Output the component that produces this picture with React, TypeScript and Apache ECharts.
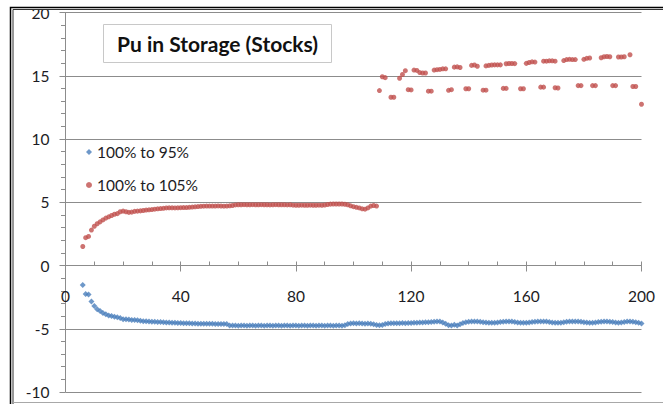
import React, { useEffect, useRef } from "react";
import * as echarts from "echarts";

const titleText = "Pu in Storage (Stocks)";
const seriesNames = ["100% to 95%", "100% to 105%"];

// 100% to 95%: values for x = blueStart, blueStart+1, ...
const blueStart = 6;
const blueValues = [
  -1.55, -2.25, -2.3, -2.85, -3.2, -3.45, -3.6, -3.75, -3.85, -3.95,
  -4.0, -4.05, -4.1, -4.15, -4.25, -4.25, -4.27, -4.3, -4.3, -4.33,
  -4.36, -4.4, -4.4, -4.42, -4.44, -4.45, -4.46, -4.47, -4.48, -4.5,
  -4.5, -4.52, -4.53, -4.55, -4.55, -4.56, -4.57, -4.57, -4.58, -4.58,
  -4.6, -4.6, -4.6, -4.6, -4.61, -4.61, -4.62, -4.62, -4.62, -4.63,
  -4.63, -4.74, -4.75, -4.75, -4.76, -4.75, -4.75, -4.76, -4.75, -4.75,
  -4.76, -4.75, -4.75, -4.76, -4.75, -4.75, -4.76, -4.75, -4.75, -4.76,
  -4.75, -4.75, -4.76, -4.75, -4.75, -4.76, -4.75, -4.75, -4.76, -4.75,
  -4.75, -4.76, -4.75, -4.75, -4.76, -4.75, -4.75, -4.76, -4.75, -4.75,
  -4.76, -4.72, -4.62, -4.58, -4.57, -4.58, -4.57, -4.58, -4.6, -4.58,
  -4.6, -4.64, -4.7, -4.72, -4.7, -4.62, -4.58, -4.57, -4.56, -4.57,
  -4.56, -4.55, -4.56, -4.55, -4.54, -4.53, -4.52, -4.51, -4.5, -4.49,
  -4.48, -4.46, -4.44, -4.42, -4.42, -4.5, -4.6, -4.72, -4.74, -4.68,
  -4.74, -4.65, -4.55, -4.48, -4.45, -4.43, -4.42, -4.42, -4.45, -4.48,
  -4.5, -4.52, -4.53, -4.52, -4.5, -4.47, -4.44, -4.43, -4.42, -4.43,
  -4.46, -4.5, -4.52, -4.53, -4.53, -4.5, -4.46, -4.44, -4.43, -4.42,
  -4.42, -4.43, -4.46, -4.5, -4.52, -4.53, -4.52, -4.48, -4.45, -4.43,
  -4.42, -4.42, -4.43, -4.45, -4.48, -4.51, -4.53, -4.53, -4.5, -4.47,
  -4.44, -4.42, -4.42, -4.44, -4.47, -4.5, -4.52, -4.5, -4.46, -4.43,
  -4.42, -4.44, -4.48, -4.52, -4.58,
];

// 100% to 105%: first part, values for x = redStart, redStart+1, ...
const redStart = 6;
const redValues = [
  1.5, 2.2, 2.3, 2.8, 3.1, 3.3, 3.45, 3.6, 3.75, 3.85,
  3.95, 4.05, 4.1, 4.25, 4.3, 4.25, 4.2, 4.22, 4.28, 4.3,
  4.32, 4.35, 4.38, 4.4, 4.42, 4.45, 4.48, 4.5, 4.52, 4.55,
  4.56, 4.56, 4.55, 4.56, 4.57, 4.58, 4.58, 4.6, 4.62, 4.64,
  4.66, 4.68, 4.69, 4.7, 4.7, 4.7, 4.7, 4.71, 4.7, 4.69,
  4.7, 4.72, 4.74, 4.79, 4.8, 4.8, 4.81, 4.8, 4.8, 4.81,
  4.8, 4.8, 4.81, 4.8, 4.8, 4.79, 4.8, 4.81, 4.8, 4.8,
  4.8, 4.79, 4.8, 4.77, 4.76, 4.76, 4.77, 4.76, 4.76, 4.77,
  4.76, 4.76, 4.77, 4.76, 4.78, 4.82, 4.85, 4.86, 4.86, 4.86,
  4.86, 4.84, 4.8, 4.72, 4.65, 4.6, 4.55, 4.48, 4.45, 4.55,
  4.7, 4.74, 4.7,
];

// 100% to 105%: upper branch after x = 109 (x, value)
const redUpper: [number, number][] = [
  [110, 14.92], [111, 14.85],
  [116, 14.8], [117, 15.1], [118, 15.4],
  [121, 15.45], [122, 15.42],
  [123, 15.25], [124, 15.22], [125, 15.22],
  [128, 15.45], [129, 15.48], [130, 15.5], [131, 15.55], [132, 15.55],
  [135, 15.68], [136, 15.7], [137, 15.65],
  [141, 15.82], [142, 15.85], [143, 15.75],
  [146, 15.78], [147, 15.82], [148, 15.85], [149, 15.86], [150, 15.86], [151, 15.86],
  [153, 15.95], [154, 15.97], [155, 15.97], [156, 15.96],
  [160, 15.98], [161, 16.05], [162, 16.1], [163, 16.08],
  [166, 16.15], [167, 16.15], [168, 16.18], [169, 16.18], [170, 16.15],
  [173, 16.2], [174, 16.28], [175, 16.3], [176, 16.28], [177, 16.28],
  [180, 16.3], [181, 16.38], [182, 16.4],
  [186, 16.42], [187, 16.5], [188, 16.52], [189, 16.5],
  [192, 16.48], [193, 16.48], [194, 16.5],
  [196, 16.66],
];

// 100% to 105%: lower branch after x = 109 (x, value)
const redLower: [number, number][] = [
  [109, 13.83],
  [113, 13.3], [114, 13.3],
  [119, 13.9], [120, 13.88],
  [126, 13.78], [127, 13.78],
  [133, 13.85], [134, 13.9],
  [139, 13.97], [140, 13.97],
  [145, 13.86], [146, 13.86],
  [152, 14.0], [153, 14.0],
  [158, 13.97], [159, 13.97],
  [165, 14.1], [166, 14.1],
  [170, 14.05], [171, 14.03],
  [178, 14.22], [179, 14.22],
  [183, 14.22], [184, 14.22],
  [190, 14.22], [191, 14.22],
  [197, 14.15], [198, 14.15],
  [200, 12.75],
];

const xLabelStep = 40;

const BLUE = "#4a7ebb";
const RED = "#c0504d";
const GRID = "#8c8c8c";
const TEXT = "#1c1c24";
const FONT = "Lato";

// grid geometry (pixels)
const GRID_TOP = 12.5;
const GRID_BOTTOM = 12;
const CHART_H = 404;

export default function App() {
  const ref = useRef<HTMLDivElement>(null);

  useEffect(() => {
    if (!ref.current) return;
    const chart = echarts.init(ref.current, null, { renderer: "svg" });

    const blueData = blueValues.map((v, i) => [blueStart + i, v]);
    const redData = [
      ...redValues.map((v, i) => [redStart + i, v]),
      ...redUpper,
      ...redLower,
    ];

    const yMin = -10;
    const yMax = 20;
    const plotH = CHART_H - GRID_TOP - GRID_BOTTOM;
    const zeroFromTop = (yMax / (yMax - yMin)) * plotH;
    const zeroFromBottom = plotH - zeroFromTop;

    chart.setOption({
      animation: false,
      backgroundColor: "#ffffff",
      title: {
        text: titleText,
        left: 103,
        top: 24,
        padding: [9, 14, 9, 14],
        borderColor: "#c8c8c8",
        borderWidth: 1,
        backgroundColor: "#ffffff",
        textStyle: {
          fontFamily: FONT,
          fontWeight: "bold",
          fontSize: 21,
          color: "#111111",
        },
      },
      legend: {
        orient: "vertical",
        left: 81,
        top: 139,
        itemWidth: 6,
        itemHeight: 6,
        itemGap: 17,
        data: [
          { name: seriesNames[0], icon: "diamond" },
          { name: seriesNames[1], icon: "circle" },
        ],
        textStyle: { fontFamily: FONT, fontSize: 15.5, color: TEXT },
      },
      grid: {
        left: 65.5,
        right: 21.5,
        top: GRID_TOP,
        bottom: GRID_BOTTOM,
        containLabel: false,
        outerBoundsMode: "none",
      },
      xAxis: [
        {
          type: "value",
          position: "bottom",
          offset: -zeroFromBottom,
          min: 0,
          max: 200,
          interval: 10,
          axisLine: {
            show: true,
            onZero: false,
            lineStyle: { color: GRID, width: 1 },
          },
          axisTick: { show: true, inside: true, length: 4, lineStyle: { color: GRID } },
          axisLabel: {
            margin: 22,
            fontFamily: FONT,
            fontSize: 15.5,
            color: TEXT,
            formatter: (v: number) => (v % xLabelStep === 0 ? String(v) : ""),
          },
          splitLine: { show: false },
        },
        {
          type: "value",
          position: "top",
          offset: -zeroFromTop,
          min: 0,
          max: 200,
          interval: xLabelStep,
          axisLine: { show: false, onZero: false },
          axisTick: { show: true, inside: true, length: 6, lineStyle: { color: GRID } },
          axisLabel: { show: false },
          splitLine: { show: false },
        },
      ],
      yAxis: {
        type: "value",
        min: yMin,
        max: yMax,
        interval: 5,
        axisLine: { show: true, onZero: false, lineStyle: { color: GRID, width: 1 } },
        axisTick: { show: true, length: 6, lineStyle: { color: GRID } },
        minorTick: { show: true, splitNumber: 5, length: 4.5, lineStyle: { color: GRID } },
        axisLabel: {
          margin: 16,
          fontFamily: FONT,
          fontSize: 15.5,
          color: TEXT,
        },
        splitLine: { show: true, lineStyle: { color: GRID, width: 1 } },
      },
      series: [
        {
          name: seriesNames[0],
          type: "scatter",
          symbol: "diamond",
          symbolSize: 6,
          itemStyle: { color: BLUE },
          data: blueData,
          z: 3,
        },
        {
          name: seriesNames[1],
          type: "scatter",
          symbol: "circle",
          symbolSize: 5,
          itemStyle: { color: RED },
          data: redData,
          z: 3,
        },
      ],
      graphic: [
        {
          type: "rect",
          shape: { x: 0, y: 0, width: 663, height: 9 },
          style: { fill: "#ffffff" },
          z: 100,
        },
        {
          type: "polyline",
          shape: { points: [[10.5, 404], [10.5, 7.5], [663, 7.5]] },
          style: { stroke: "#000000", lineWidth: 1.5, fill: null },
          z: 101,
        },
        {
          type: "polyline",
          shape: { points: [[13, 404], [13, 9.5], [663, 9.5]] },
          style: { stroke: "#333333", lineWidth: 1, fill: null },
          z: 101,
        },
        {
          type: "line",
          shape: { x1: 13, y1: 402.5, x2: 663, y2: 402.5 },
          style: { stroke: "#a8a8a8", lineWidth: 1 },
          z: 101,
        },
      ],
    });

    return () => chart.dispose();
  }, []);

  return (
    <div
      ref={ref}
      style={{ position: "fixed", left: 0, top: 0, width: 663, height: 404, background: "#fff" }}
    />
  );
}
